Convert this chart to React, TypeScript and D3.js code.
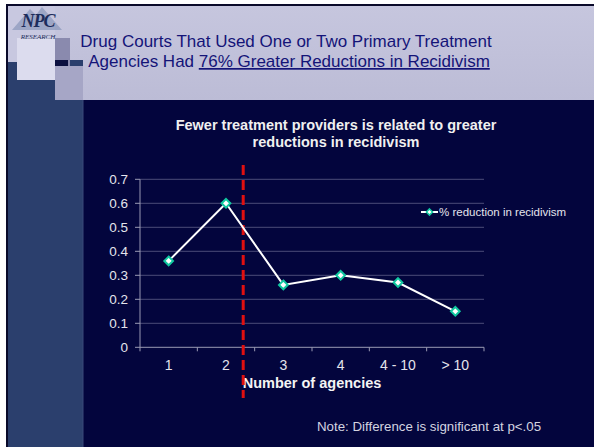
import React from "react";
import * as d3 from "d3";

const categories = ["1", "2", "3", "4", "4 - 10", "> 10"];
const values = [0.36, 0.6, 0.26, 0.3, 0.27, 0.15];
const yTicks = [0, 0.1, 0.2, 0.3, 0.4, 0.5, 0.6, 0.7];
const seriesName = "% reduction in recidivism";
const titleLines = ["Drug Courts That Used One or Two Primary Treatment", "Agencies Had "];
const titleUnderlined = "76% Greater Reductions in Recidivism";
const chartTitle = ["Fewer treatment providers is related to greater", "reductions in recidivism"];
const xAxisTitle = "Number of agencies";
const note = "Note: Difference is significant at p<.05";

const W = 594, H = 447;
const FONT = "'Liberation Sans', Arial, sans-serif";

export default function App() {
  const x = d3.scaleBand<string>().domain(categories).range([140, 484]).padding(0);
  const y = d3.scaleLinear().domain([0, 0.7]).range([347.3, 179.3]);
  const cx = (c: string) => (x(c) as number) + x.bandwidth() / 2;
  const line = d3.line<number>().x((_, i) => cx(categories[i])).y((v) => y(v));
  const bounds = categories.map((c) => x(c) as number).concat([x.range()[1]]);
  const redX = (x(categories[1]) as number) + x.bandwidth() * 0.8;
  const diamond = d3.symbol().type(d3.symbolDiamond2).size(48)() as string;

  return (
    <svg width={W} height={H} style={{ position: "absolute", left: 0, top: 0, display: "block" }} fontFamily={FONT}>
      <defs>
        <linearGradient id="hdr" x1="0" y1="0" x2="0" y2="1">
          <stop offset="0" stopColor="#c6c6de" />
          <stop offset="1" stopColor="#bcbcd6" />
        </linearGradient>
      </defs>
      {/* page background */}
      <rect x={0} y={0} width={W} height={H} fill="#ffffff" />
      <rect x={6} y={4} width={W - 6} height={H - 4} fill="#0a0a2a" />
      <rect x={8} y={6} width={W - 8} height={H - 6} fill="#03053d" />
      {/* header */}
      <rect x={8} y={6} width={W - 8} height={94} fill="url(#hdr)" />
      {/* left strip */}
      <rect x={8} y={60} width={75} height={H - 60} fill="#2b3f6d" />
      <rect x={8} y={6} width={47} height={56} fill="#c8c8e0" />
      <rect x={17} y={38} width={38} height={42} fill="#dcdcee" />
      <rect x={55} y={38} width={15} height={28} fill="#8a8aae" />
      <rect x={55} y={60} width={13} height={20} fill="#0c1040" />
      <rect x={55} y={66} width={28} height={34} fill="#a6a6c6" />
      <line x1={83} y1={100} x2={83} y2={H} stroke="#3a4a7a" strokeWidth={1} />
      {/* logo */}
      <g>
        <path d="M12,30 L30,9 L36,15 L42,7 L62,30 Z" fill="#7a8ab0" opacity={0.55} />
        <text x={38} y={27} textAnchor="middle" fontFamily="'Liberation Serif', serif" fontWeight="bold" fontStyle="italic" fontSize={18} fill="#1c2c5c" letterSpacing={-1}>NPC</text>
        <text x={38} y={38.5} textAnchor="middle" fontFamily="'Liberation Serif', serif" fontStyle="italic" fontSize={7} fill="#1c2c5c">RESEARCH</text>
      </g>
      {/* header title */}
      <text x={286} y={47} textAnchor="middle" fontSize={17} fill="#141478">{titleLines[0]}</text>
      <text x={289} y={67} textAnchor="middle" fontSize={17} fill="#141478">
        <tspan>{titleLines[1]}</tspan>
        <tspan textDecoration="underline">{titleUnderlined}</tspan>
      </text>
      {/* chart title */}
      {chartTitle.map((t, i) => (
        <text key={i} x={336} y={130 + i * 17} textAnchor="middle" fontSize={14.5} fontWeight="bold" fill="#f0f0f0">{t}</text>
      ))}
      {/* gridlines */}
      {yTicks.slice(1).map((t) => (
        <line key={t} x1={140} x2={484} y1={y(t)} y2={y(t)} stroke="#4c4c78" strokeWidth={1} />
      ))}
      {/* axes */}
      <line x1={140} x2={140} y1={y(0.7)} y2={y(0)} stroke="#9a9ab4" strokeWidth={1} />
      <line x1={140} x2={484} y1={y(0)} y2={y(0)} stroke="#9a9ab4" strokeWidth={1} />
      {yTicks.map((t) => (
        <g key={t}>
          <line x1={135} x2={140} y1={y(t)} y2={y(t)} stroke="#9a9ab4" />
          <text x={128} y={y(t)} dy="0.35em" textAnchor="end" fontSize={13.5} fill="#e4e4ec">{d3.format("")(t)}</text>
        </g>
      ))}
      {bounds.map((b, i) => (
        <line key={i} x1={b} x2={b} y1={y(0)} y2={y(0) + 4} stroke="#9a9ab4" />
      ))}
      {categories.map((c) => (
        <text key={c} x={cx(c)} y={370} textAnchor="middle" fontSize={14} fill="#e4e4ec">{c}</text>
      ))}
      <text x={312} y={388} textAnchor="middle" fontSize={14.5} fontWeight="bold" fill="#f4f4f4">{xAxisTitle}</text>
      {/* red dashed line */}
      <line x1={redX} x2={redX} y1={165} y2={398} stroke="#e01010" strokeWidth={3} strokeDasharray="10,5" />
      {/* series */}
      <path d={line(values) as string} fill="none" stroke="#ffffff" strokeWidth={2} />
      {values.map((v, i) => (
        <path key={i} d={diamond} transform={`translate(${cx(categories[i])},${y(v)})`} fill="#ffffff" stroke="#10c8a0" strokeWidth={2} />
      ))}
      {/* legend */}
      <line x1={421} x2={438} y1={212} y2={212} stroke="#ffffff" strokeWidth={2} />
      <path d={d3.symbol().type(d3.symbolDiamond2).size(24)() as string} transform="translate(429.5,212)" fill="#ffffff" stroke="#10c8a0" strokeWidth={1.5} />
      <text x={439} y={212} dy="0.35em" fontSize={11.5} fill="#e4e4ec">{seriesName}</text>
      {/* note */}
      <text x={317} y={426} dy="0.35em" fontSize={13.3} fill="#d4d4e0">{note}</text>
    </svg>
  );
}
